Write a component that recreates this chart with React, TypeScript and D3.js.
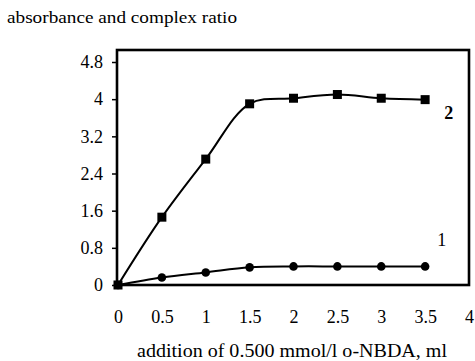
import React, { useEffect, useRef } from 'react';
import * as d3 from 'd3';

const xValues = [0, 0.5, 1, 1.5, 2, 2.5, 3, 3.5];
const series1 = [0, 0.16, 0.27, 0.38, 0.4, 0.4, 0.4, 0.4];
const series2 = [0, 1.46, 2.71, 3.9, 4.02, 4.1, 4.02, 3.99];
const xTicks = [0, 0.5, 1, 1.5, 2, 2.5, 3, 3.5, 4];
const yTicks = [0, 0.8, 1.6, 2.4, 3.2, 4, 4.8];

export default function App() {
  const ref = useRef<SVGSVGElement | null>(null);

  useEffect(() => {
    if (!ref.current) return;
    const svg = d3.select(ref.current);
    svg.selectAll('*').remove();

    const font = 'Liberation Serif, Times New Roman, serif';
    const x = d3.scaleLinear().domain([0, 4]).range([118, 469]);
    const y = d3.scaleLinear().domain([0, 4.8]).range([285, 62]);

    // plot frame
    svg.append('rect')
      .attr('x', 117).attr('y', 50)
      .attr('width', 352).attr('height', 235)
      .attr('fill', 'none').attr('stroke', '#000').attr('stroke-width', 2.6);

    // y axis
    const yAxis = svg.append('g')
      .attr('transform', 'translate(116,0)')
      .call(d3.axisLeft(y).tickValues(yTicks).tickSize(4).tickPadding(9).tickFormat(d3.format('')));
    yAxis.select('.domain').remove();
    yAxis.selectAll('line').attr('stroke-width', 1.5);
    yAxis.selectAll('text')
      .style('font-family', font).style('font-size', '18px').attr('fill', '#000');

    // x axis labels
    const xAxis = svg.append('g')
      .attr('transform', 'translate(0,285)')
      .call(d3.axisBottom(x).tickValues(xTicks).tickSize(0).tickPadding(25).tickFormat(d3.format('')));
    xAxis.select('.domain').remove();
    xAxis.selectAll('text')
      .style('font-family', font).style('font-size', '18px').attr('fill', '#000');

    const line = d3.line<number>()
      .x((_, i) => x(xValues[i]))
      .y(d => y(d))
      .curve(d3.curveCatmullRom.alpha(0.5));

    [series1, series2].forEach((s) => {
      svg.append('path')
        .datum(s)
        .attr('d', line)
        .attr('fill', 'none')
        .attr('stroke', '#000')
        .attr('stroke-width', 2);
    });

    // circles for series 1
    svg.selectAll('.c1')
      .data(series1)
      .enter()
      .append('circle')
      .attr('cx', (_, i) => x(xValues[i]))
      .attr('cy', d => y(d))
      .attr('r', 4.3)
      .attr('fill', '#000');

    // squares for series 2
    svg.selectAll('.s2')
      .data(series2)
      .enter()
      .append('rect')
      .attr('x', (_, i) => x(xValues[i]) - 4.5)
      .attr('y', d => y(d) - 4.5)
      .attr('width', 9)
      .attr('height', 9)
      .attr('fill', '#000');

    // series labels
    svg.append('text')
      .attr('x', x(3.5) + 19).attr('y', y(series2[7]) + 19)
      .style('font-family', font).style('font-size', '18px').attr('font-weight', 'bold')
      .text('2');
    svg.append('text')
      .attr('x', x(3.5) + 12).attr('y', y(series1[7]) - 20)
      .style('font-family', font).style('font-size', '18px')
      .text('1');

    // titles
    svg.append('text')
      .attr('x', 7).attr('y', 23)
      .style('font-family', font).style('font-size', '17px')
      .attr('textLength', 230).attr('lengthAdjust', 'spacingAndGlyphs')
      .text('absorbance and complex ratio');

    svg.append('text')
      .attr('x', 137).attr('y', 357)
      .style('font-family', font).style('font-size', '18px')
      .attr('textLength', 310).attr('lengthAdjust', 'spacingAndGlyphs')
      .text('addition of 0.500 mmol/l o-NBDA, ml');
  }, []);

  return (
    <svg
      ref={ref}
      width={475}
      height={361}
      style={{ position: 'absolute', left: 0, top: 0, background: '#fff' }}
    />
  );
}
